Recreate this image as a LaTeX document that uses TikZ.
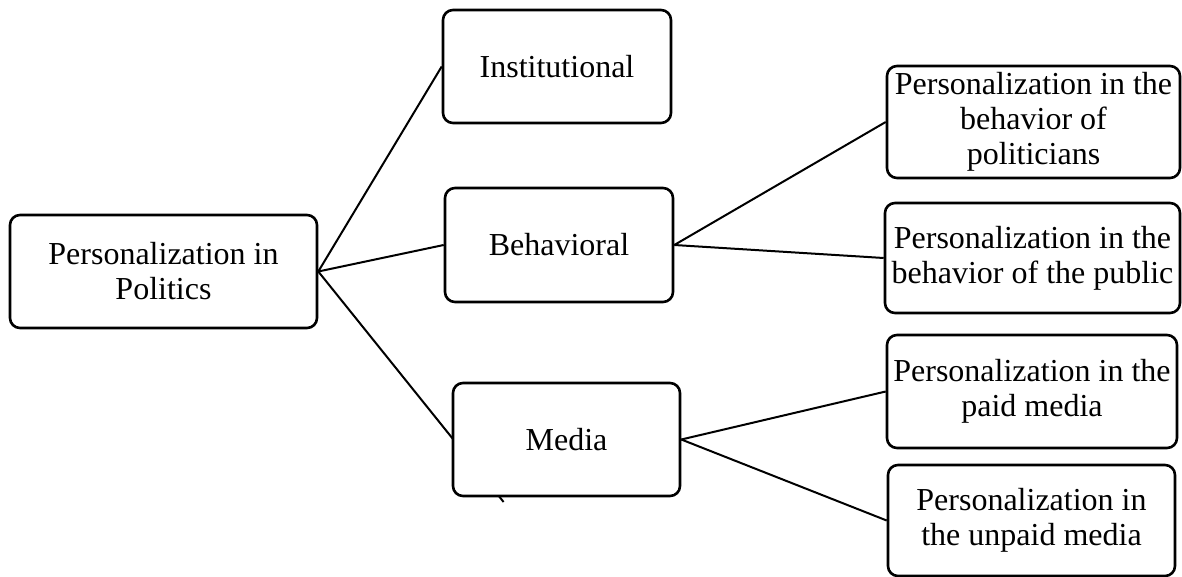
\documentclass[tikz,border=0pt]{standalone}
\usepackage{fontspec}
\setmainfont{Liberation Serif}
\usetikzlibrary{backgrounds}
\begin{document}
\begin{tikzpicture}[x=1pt,y=-1pt,
  box/.style={draw=black,line width=2.6pt,rounded corners=10pt,fill=white,
    inner sep=0pt,align=center,font=\fontsize{32}{35}\selectfont},
  link/.style={draw=black,line width=2pt}]
\useasboundingbox (0,0) rectangle (1182,577);
\node[box,minimum width=307pt,minimum height=113pt] (root) at (163.5,271.5) {Personalization in\\Politics};
\node[box,minimum width=228pt,minimum height=113pt] (inst) at (557,66.5) {Institutional};
\node[box,minimum width=228pt,minimum height=114pt] (beh) at (559,245) {Behavioral};
\node[box,minimum width=227pt,minimum height=113pt] (med) at (566.5,439.5) {Media};
\node[box,minimum width=293pt,minimum height=112pt] (b1) at (1033.5,122) {Personalization in the\\behavior of\\politicians};
\node[box,minimum width=295pt,minimum height=110pt] (b2) at (1032.5,258) {Personalization in the\\behavior of the public};
\node[box,minimum width=290pt,minimum height=113pt] (b3) at (1032,391.5) {Personalization in the\\paid media};
\node[box,minimum width=287pt,minimum height=111pt] (b4) at (1031.5,520.5) {Personalization in\\the unpaid media};
\coordinate (medend) at (503.6,502);
\begin{scope}[on background layer]
\draw[link] (root.east) -- (inst.west);
\draw[link] (root.east) -- (beh.west);
\draw[link] (root.east) -- (medend);
\draw[link] (beh.east) -- (b1.west);
\draw[link] (beh.east) -- (b2.west);
\draw[link] (med.east) -- (b3.west);
\draw[link] (med.east) -- (b4.west);
\end{scope}
\end{tikzpicture}
\end{document}
